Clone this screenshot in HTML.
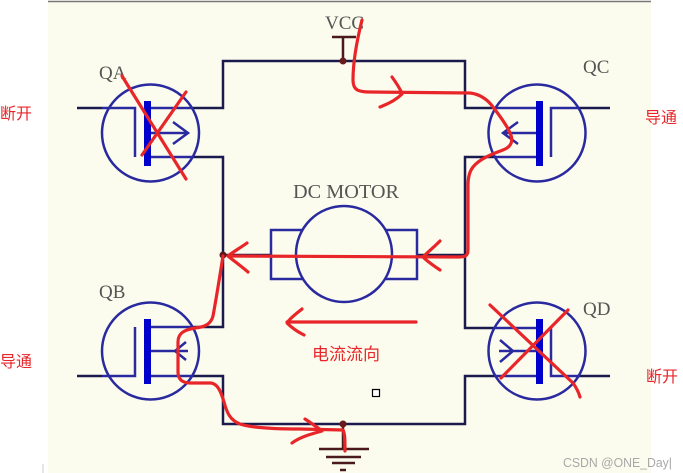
<!DOCTYPE html>
<html><head><meta charset="utf-8">
<style>
html,body{margin:0;padding:0;background:#fff;}
body{width:683px;height:473px;position:relative;overflow:hidden;}
svg{position:absolute;left:0;top:0;}
</style></head><body>
<svg width="683" height="473" viewBox="0 0 683 473" xmlns="http://www.w3.org/2000/svg">
<rect x="48" y="2" width="603" height="471" fill="#fcfcee"/>
<line x1="48" y1="1.5" x2="651" y2="1.5" stroke="#777" stroke-width="1.5"/>
<line x1="43" y1="464" x2="43" y2="473" stroke="#ccc" stroke-width="1"/>

<!-- main wires -->
<g fill="none" stroke="#1a1a4e" stroke-width="2.5" stroke-linejoin="miter">
  <path d="M192,108 H223 V61 H465 V108 H495"/>
  <path d="M192,157 H223 V327 H192"/>
  <path d="M192,376 H223 V424 H465 V376 H495"/>
  <path d="M495,157 H465 V328 H495"/>
  <path d="M77,108 H102"/>
  <path d="M77,376 H102"/>
  <path d="M579,108 H610"/>
  <path d="M579,376 H610"/>
  <path d="M223,255 H271"/>
  <path d="M417,255 H465"/>
</g>

<!-- transistors -->
<g fill="none" stroke="#2a2aa0" stroke-width="2.5">
  <!-- QA -->
  <circle cx="150.5" cy="133" r="48.5"/>
  <path d="M102,108 H135 V157"/>
  <path d="M151,108 H192"/>
  <path d="M151,157 H192"/>
  <path d="M151,133 H188 M173,122 L188,133 L173,144"/>
  <!-- QB -->
  <circle cx="150.5" cy="351" r="48.5"/>
  <path d="M102,376 H135 V327"/>
  <path d="M151,327 H192"/>
  <path d="M151,376 H192"/>
  <path d="M151,351 H188 M186,342 L175,351 L186,360"/>
  <!-- QC -->
  <circle cx="537" cy="133" r="48.5"/>
  <path d="M551,157 V108 H579"/>
  <path d="M495,108 H537"/>
  <path d="M495,157 H537"/>
  <path d="M503,133 H537 M518,122 L503,133 L518,144"/>
  <!-- QD -->
  <circle cx="537" cy="351" r="48.5"/>
  <path d="M551,328 V376 H579"/>
  <path d="M495,328 H537"/>
  <path d="M495,376 H537"/>
  <path d="M499,351 H537 M500,340 L513,351 L500,362"/>
</g>
<g fill="#0000cc">
  <rect x="144" y="101" width="7" height="65"/>
  <rect x="144" y="319" width="7" height="65"/>
  <rect x="536" y="101" width="7" height="65"/>
  <rect x="536" y="319" width="7" height="65"/>
</g>

<!-- motor -->
<g stroke="#2a2aa0" stroke-width="2.5" fill="#fcfcee">
  <rect x="271" y="230" width="40" height="49"/>
  <rect x="377" y="230" width="40" height="49"/>
  <circle cx="344" cy="254" r="48"/>
</g>

<!-- VCC / GND -->
<g stroke="#4a1a1a" stroke-width="2.5" fill="none">
  <path d="M332,37 H356 M343,37 V61"/>
  <path d="M343,424 V449 M319,449 H369 M326,457 H361 M332,463 H355 M340,470 H346"/>
</g>
<circle cx="343" cy="61" r="3.5" fill="#6a1a1a"/>
<circle cx="343" cy="424" r="3.5" fill="#6a1a1a"/>
<circle cx="223" cy="255" r="3.5" fill="#5a1a1a"/>
<rect x="372.5" y="389.5" width="7" height="7" fill="#fff" stroke="#000" stroke-width="1.2"/>

<!-- labels -->
<g font-family="Liberation Serif, serif" fill="#555">
  <text x="325" y="29" font-size="19">VCC</text>
  <text x="99" y="79" font-size="19">QA</text>
  <text x="99" y="298" font-size="19">QB</text>
  <text x="583" y="73" font-size="19">QC</text>
  <text x="583" y="315" font-size="19">QD</text>
  <text x="293" y="198" font-size="20" textLength="106" lengthAdjust="spacingAndGlyphs">DC MOTOR</text>
</g>
<g font-family="Liberation Sans, 'Noto Sans CJK SC', sans-serif" fill="#e8262a" font-size="16">
  <text x="0" y="119">断开</text>
  <text x="645" y="123">导通</text>
  <text x="0" y="367">导通</text>
  <text x="646" y="382">断开</text>
  <text x="312" y="360" font-size="17">电流流向</text>
</g>
<text x="563" y="467" font-family="Liberation Sans, sans-serif" font-size="12.5" fill="#a8a8a8" textLength="109" lengthAdjust="spacingAndGlyphs">CSDN @ONE_Day|</text>

<!-- red annotations -->
<g fill="none" stroke="#e8262a" stroke-width="3.2" stroke-linecap="round" stroke-linejoin="round">
  <path d="M122,76 L186,179"/>
  <path d="M142,155 L186,92"/>
  <path d="M490,305 L573,383 Q578,390 580,397"/>
  <path d="M501,378 L568,310"/>
  <path d="M362,20 C357,40 353,60 353,80 C353,90 358,92 370,92 L470,93 C480,94 488,100 493,107 C499,115 507,125 510,133 C514,141 511,147 503,150 C495,153 480,158 473,167 C469,172 468,178 468,185 L468,250 C468,256 465,257 458,257 L228,256"/>
  <path d="M392,77 C397,84 401,90 402,94 C396,100 388,104 380,107"/>
  <path d="M440,241 C434,247 428,252 423,257 C428,262 434,266 440,270"/>
  <path d="M247,243 C240,248 233,252 228,256 C234,261 241,266 248,272"/>
  <path d="M223,256 C220,275 216,300 213,316 C211,324 205,327 195,328 C184,330 178,333 178,342 L178,372 C178,379 182,383 190,383 L211,383 C218,384 221,392 224,402 C227,413 230,420 240,424 C252,428 275,429 300,429 L343,430 C345,433 345,442 345,451"/>
  <path d="M305,419 C311,423 317,427 322,431 C311,434 300,437 292,443"/>
  <path d="M416,322 L287,322"/>
  <path d="M302,309 C296,314 290,318 287,323 C292,328 298,332 304,335"/>
</g>
</svg>
</body></html>
